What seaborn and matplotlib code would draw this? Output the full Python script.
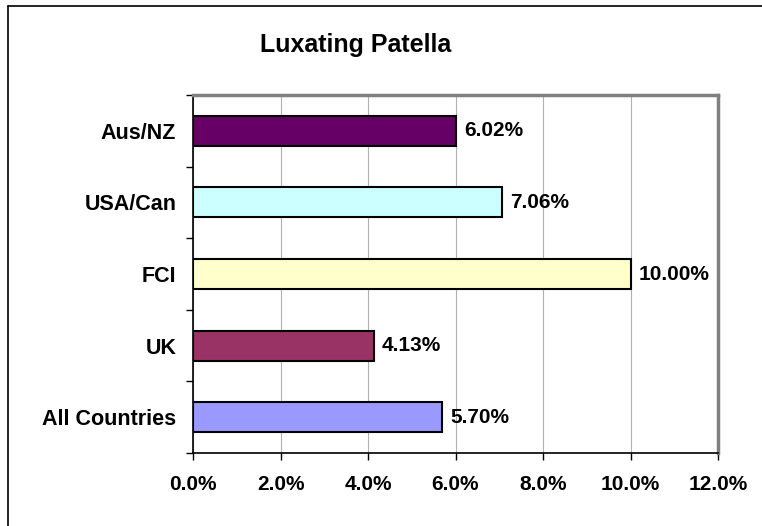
import matplotlib
matplotlib.use("Agg")
import matplotlib.pyplot as plt
import seaborn as sns
import pandas as pd
import numpy as np
from matplotlib.lines import Line2D
from matplotlib.ticker import FixedLocator

categories = ["Aus/NZ", "USA/Can", "FCI", "UK", "All Countries"]
values = [6.02, 7.06, 10.00, 4.13, 5.70]
colors = ["#660066", "#CCFFFF", "#FFFFCC", "#993366", "#9999FF"]
xticks = [0, 2, 4, 6, 8, 10, 12]
title = "Luxating Patella"

sns.set_theme(style="white")
plt.rcParams["font.family"] = ["Liberation Sans", "DejaVu Sans"]
plt.rcParams["font.weight"] = "bold"
plt.rcParams["text.color"] = "black"
plt.rcParams["xtick.labelcolor"] = "black"
plt.rcParams["ytick.labelcolor"] = "black"

df = pd.DataFrame({"cat": categories, "val": values})

fig = plt.figure(figsize=(7.62, 5.26), dpi=100)
ax = fig.add_axes([193/762, 1-453/526, (718-193)/762, (453-95)/526])

sns.barplot(data=df, x="val", y="cat", hue="cat", palette=colors, order=categories,
            hue_order=categories, legend=False, width=0.42, edgecolor="black",
            linewidth=1.5, saturation=1, ax=ax, zorder=3)

FS = 15
ax.set_xlim(0, 12)
ax.set_ylim(4.5, -0.5)
ax.set_xticks(xticks)
ax.set_xticklabels([f"{t:.1f}%" for t in xticks], fontsize=FS, fontweight="bold", color="black")
ax.set_yticks(range(len(categories)))
ax.set_yticklabels(categories, fontsize=15.5, fontweight="bold", color="black")
ax.yaxis.set_minor_locator(FixedLocator(np.arange(-0.5, 5.0, 1.0)))
ax.tick_params(axis="y", which="major", length=0, pad=12)
ax.tick_params(axis="y", which="minor", length=5, width=1, color="black", direction="out", left=True)
ax.tick_params(axis="x", which="major", length=5, width=1, color="black", direction="out", bottom=True, pad=11)
ax.set_xlabel("")
ax.set_ylabel("")

ax.grid(axis="x", color="#B0B0B0", linewidth=0.8, zorder=0)
ax.grid(axis="y", visible=False)
ax.set_axisbelow(True)

for s in ["left", "bottom"]:
    ax.spines[s].set_color("black")
    ax.spines[s].set_linewidth(1.2)
for s in ["top", "right"]:
    ax.spines[s].set_color("#808080")
    ax.spines[s].set_linewidth(2.5)

for i, v in enumerate(values):
    ax.annotate(f"{v:.2f}%", xy=(v, i), xytext=(6, 0), textcoords="offset points",
                va="center", ha="left", fontsize=FS, fontweight="bold", color="black")

fig.text(356/762, 1 - 45/526, title, ha="center", va="center", fontsize=18,
         fontweight="bold", color="black")

fig.add_artist(Line2D([8/762, 8/762], [0, 1 - 6/526], transform=fig.transFigure, color="black", linewidth=1.2))
fig.add_artist(Line2D([8/762, 1], [1 - 6/526, 1 - 6/526], transform=fig.transFigure, color="black", linewidth=1.2))

fig.savefig("out.png", dpi=100, facecolor="white")
